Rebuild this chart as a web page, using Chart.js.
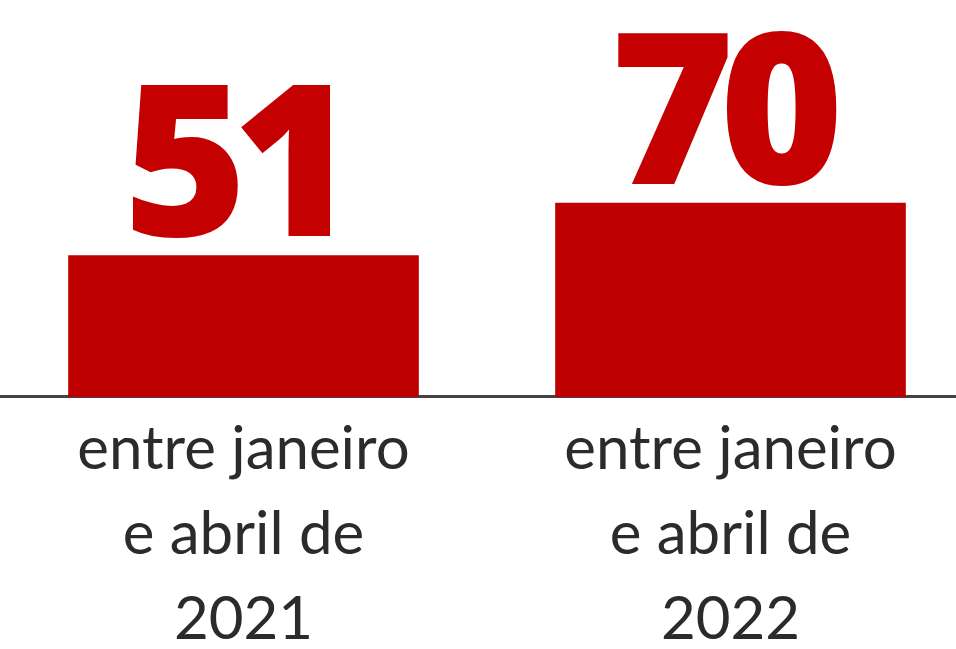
<!DOCTYPE html>
<html>
<head>
<meta charset="utf-8">
<script src="https://cdn.jsdelivr.net/npm/chart.js"></script>
<style>
  body { margin: 0; background: #fff; overflow: hidden; }
</style>
</head>
<body>
<canvas id="myChart" width="974" height="672"></canvas>
<script>

var periodos = [
  ['entre janeiro', 'e abril de', '2021'],
  ['entre janeiro', 'e abril de', '2022']
];
var casos = [51, 70];

// numeros grandes em cima das barras
var rotulosBarras = {
  id: 'rotulosBarras',
  afterDatasetsDraw: function(chart) {
    var ctx = chart.ctx;
    var meta = chart.getDatasetMeta(0);
    ctx.save();
    ctx.fillStyle = '#c40000';
    ctx.font = "800 212px 'Open Sans', 'Liberation Sans', sans-serif";
    ctx.letterSpacing = '-15px';
    ctx.textAlign = 'center';
    ctx.textBaseline = 'alphabetic';
    for (var i = 0; i < meta.data.length; i++) {
      var barra = meta.data[i];
      ctx.fillText(String(casos[i]), barra.x - 11, barra.y - 19);
    }
    ctx.restore();
  }
};

const ctx = document.getElementById('myChart');
new Chart(ctx, {
  type: 'bar',
  data: {
    labels: periodos,
    datasets: [{
      label: 'casos',
      data: casos,
      backgroundColor: '#bf0000',
      barPercentage: 0.72,
      categoryPercentage: 1
    }]
  },
  options: {
    responsive: false,
    animation: false,
    layout: { padding: 0 },
    plugins: {
      legend: { display: false },
      tooltip: { enabled: false }
    },
    scales: {
      x: {
        grid: { display: false, drawTicks: false },
        border: { display: true, color: '#444', width: 3 },
        ticks: {
          color: '#2b2b2b',
          padding: 10,
          font: { family: 'Lato', size: 60, lineHeight: 1.417 }
        }
      },
      y: {
        display: false,
        min: 0,
        max: 143
      }
    }
  },
  plugins: [rotulosBarras]
}); // fim do grafico

</script>
</body>
</html>
